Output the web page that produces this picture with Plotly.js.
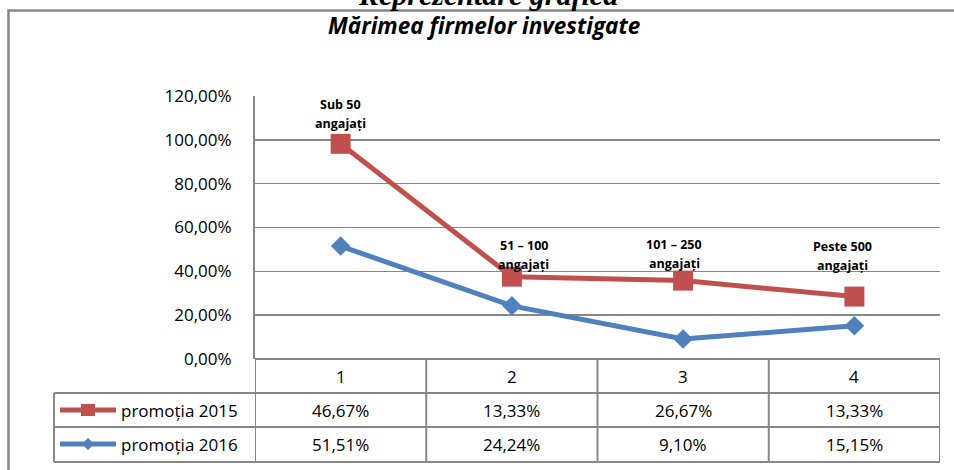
<!DOCTYPE html>
<html>
<head>
<meta charset="utf-8">
<script src="https://cdn.plot.ly/plotly-3.0.1.min.js"></script>
<style>html,body{margin:0;padding:0;background:#fff;}#chart{width:954px;height:470px;}</style>
</head>
<body>
<div id="chart"></div>
<script>
// ---- data ----
var categories = ['1', '2', '3', '4'];
var seriesNames = ['promoția 2015', 'promoția 2016'];
var p2015 = [46.67, 13.33, 26.67, 13.33];
var p2016 = [51.51, 24.24, 9.10, 15.15];
var pointLabels = [['Sub 50', 'angajați'], ['51 – 100', 'angajați'], ['101 – 250', 'angajați'], ['Peste 500', 'angajați']];
var yTicks = [0, 20, 40, 60, 80, 100, 120];

// ---- layout helpers (pixel -> paper) ----
var W = 954, H = 470;
function px(x) { return x / W; }
function py(y) { return 1 - y / H; }
function fmtPct(v) { return v.toFixed(2).replace('.', ',') + '%'; }

var RED = '#C0504D', BLUE = '#4F81BD', GRID = '#888888';
var FONT = 'Open Sans, Noto Sans, sans-serif';

// label placement (style/position constants)
var labelDx = [0, 12, -9, -12];
var labelY = [112, 47.5, 48, 47];

var traces = [
  {
    x: categories, y: p2016, name: seriesNames[1], type: 'scatter', mode: 'lines+markers',
    stackgroup: 'stk', fill: 'none',
    line: {color: BLUE, width: 5}, marker: {symbol: 'diamond', size: 15, color: BLUE},
    hoverinfo: 'skip'
  },
  {
    x: categories, y: p2015, name: seriesNames[0], type: 'scatter', mode: 'lines+markers',
    stackgroup: 'stk', fill: 'none',
    line: {color: RED, width: 5}, marker: {symbol: 'square', size: 20, color: RED},
    hoverinfo: 'skip'
  }
];

var annotations = [];
var shapes = [];

// top cut-off heading
annotations.push({
  xref: 'paper', yref: 'paper', x: px(488), y: py(-5.5), xanchor: 'center', yanchor: 'middle',
  text: '<b><i>Reprezentare grafică</i></b>', showarrow: false, borderpad: 0,
  font: {family: 'Liberation Serif, Times New Roman, serif', size: 30, color: '#000'}
});

// chart title
annotations.push({
  xref: 'paper', yref: 'paper', x: px(484), y: py(26), xanchor: 'center', yanchor: 'middle',
  text: '<b><i>Mărimea firmelor investigate</i></b>', showarrow: false, borderpad: 0,
  font: {family: FONT, size: 22.5, color: '#000'}
});

// point labels
pointLabels.forEach(function (lines, i) {
  lines.forEach(function (t, j) {
    annotations.push({
      xref: 'x', yref: 'y', x: i, y: labelY[i], xanchor: 'center', yanchor: 'middle',
      xshift: labelDx[i], yshift: (j === 0 ? 9.5 : -9.5),
      text: '<b>' + t + '</b>', showarrow: false,
      font: {family: FONT, size: 12.5, color: '#000'}
    });
  });
});

// table: header + rows
var rowsY = [376, 410, 444];
categories.forEach(function (c, i) {
  annotations.push({xref: 'x', yref: 'paper', x: i, y: py(rowsY[0]), yanchor: 'middle', text: c,
    showarrow: false, font: {family: FONT, size: 17, color: '#000'}});
  annotations.push({xref: 'x', yref: 'paper', x: i, y: py(rowsY[1]), yanchor: 'middle',
    text: fmtPct(p2015[i]), showarrow: false, font: {family: FONT, size: 17, color: '#000'}});
  annotations.push({xref: 'x', yref: 'paper', x: i, y: py(rowsY[2]), yanchor: 'middle',
    text: fmtPct(p2016[i]), showarrow: false, font: {family: FONT, size: 17, color: '#000'}});
});

// legend entries in table
[[seriesNames[0], RED, 'square'], [seriesNames[1], BLUE, 'diamond']].forEach(function (e, k) {
  var yc = rowsY[k + 1];
  annotations.push({xref: 'paper', yref: 'paper', x: px(119), y: py(yc), xanchor: 'left', yanchor: 'middle',
    text: e[0], showarrow: false, font: {family: FONT, size: 17, color: '#000'}});
  shapes.push({type: 'line', xref: 'paper', yref: 'paper', x0: px(60), x1: px(116), y0: py(yc), y1: py(yc),
    line: {color: e[1], width: 5}});
  var cx = 88;
  if (e[2] === 'square') {
    shapes.push({type: 'rect', xref: 'paper', yref: 'paper', x0: px(cx - 7), x1: px(cx + 7), y0: py(yc - 6), y1: py(yc + 6),
      line: {width: 0}, fillcolor: e[1]});
  } else {
    shapes.push({type: 'path', xref: 'paper', yref: 'paper',
      path: 'M ' + px(cx - 6) + ' ' + py(yc) + ' L ' + px(cx) + ' ' + py(yc - 6) + ' L ' + px(cx + 6) + ' ' + py(yc) + ' L ' + px(cx) + ' ' + py(yc + 6) + ' Z',
      line: {width: 0}, fillcolor: e[1]});
  }
});

// table grid lines
var LW = 2;
shapes.push({type: 'line', xref: 'paper', yref: 'paper', x0: px(255), x1: px(940), y0: py(359), y1: py(359), line: {color: GRID, width: LW}});
[393, 427, 462].forEach(function (y) {
  shapes.push({type: 'line', xref: 'paper', yref: 'paper', x0: px(54), x1: px(940), y0: py(y), y1: py(y), line: {color: GRID, width: LW}});
});
shapes.push({type: 'line', xref: 'paper', yref: 'paper', x0: px(54), x1: px(54), y0: py(393), y1: py(462), line: {color: GRID, width: LW}});
[-0.5, 0.5, 1.5, 2.5, 3.5].forEach(function (xv) {
  shapes.push({type: 'line', xref: 'x', yref: 'paper', x0: xv, x1: xv, y0: py(359), y1: py(462), line: {color: GRID, width: LW}});
});

// outer chart border
shapes.push({type: 'rect', xref: 'paper', yref: 'paper', x0: px(8.5), x1: 1.05, y0: -0.05, y1: py(10.5),
  line: {color: '#888888', width: 2.5}, fillcolor: 'rgba(0,0,0,0)'});

var layout = {
  width: W, height: H, autosize: false,
  margin: {l: 0, r: 0, t: 0, b: 0, pad: 0},
  paper_bgcolor: '#fff', plot_bgcolor: '#fff',
  separators: ', ',
  showlegend: false,
  xaxis: {
    type: 'category', categoryarray: categories, range: [-0.5, 3.5],
    domain: [px(255), px(940)], showgrid: false, zeroline: false, showline: false,
    showticklabels: false, ticks: '', fixedrange: true
  },
  yaxis: {
    range: [0, 120], tickmode: 'array', tickvals: yTicks, ticktext: yTicks.map(fmtPct),
    domain: [py(359), py(96)], showgrid: true, gridcolor: GRID, gridwidth: 1.5,
    zeroline: true, zerolinecolor: GRID, zerolinewidth: 1.5,
    showline: true, linecolor: GRID, linewidth: 2,
    ticks: 'outside', ticklen: 18, tickcolor: 'rgba(0,0,0,0)',
    tickfont: {family: FONT, size: 17, color: '#000'}, fixedrange: true
  },
  annotations: annotations,
  shapes: shapes
};

Plotly.newPlot('chart', traces, layout, {staticPlot: true, displayModeBar: false});
</script>
</body>
</html>
